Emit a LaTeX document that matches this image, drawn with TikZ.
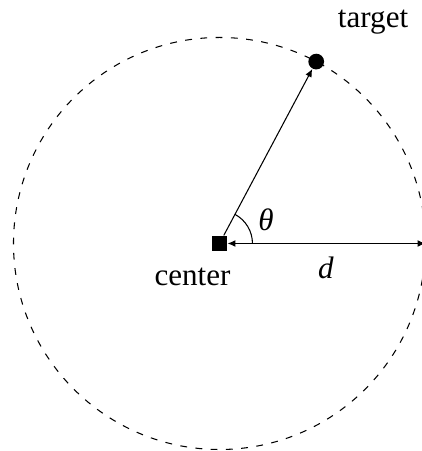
\documentclass[tikz,border=0pt]{standalone}
\usepackage{fontspec}
\setmainfont{Liberation Serif}
\usetikzlibrary{arrows.meta}
\begin{document}
\begin{tikzpicture}[font=\fontsize{11.8}{14}\selectfont,
    tip/.style={-{Latex[length=3pt,width=2.6pt]}},
    twotip/.style={{Latex[length=3pt,width=2.6pt]}-{Latex[length=3pt,width=2.6pt]}}]
    \useasboundingbox (-2.93,-2.77) rectangle (2.69,3.25);
    % dashed circle
    \draw[dash pattern=on 2.6pt off 3.2pt] (0,0) circle (2.75);

    % center and target
    \node[fill, minimum size=0.2cm, inner sep=0pt] (c) at (0,0) {};
    \node[circle, fill, minimum size=0.21cm, inner sep=0pt] (t) at (62:2.75) {};
    \coordinate (r) at (0:2.75);

    % radius to target
    \draw[tip] (c) -- (t);
    % distance d
    \draw[twotip] (c) -- (r);

    % angle
    \draw ([shift={(0:0.44)}]c.center) arc (0:62:0.44);

    % labels
    \node (theta) at (0.62,0.31) {\textit{θ}};
    \node (dlab) at (1.42,-0.33) {\textit{d}};
    \node (clab) at (-0.36,-0.45) {center};
    \node (tlab) at (2.05,2.96) {target};
\end{tikzpicture}
\end{document}
